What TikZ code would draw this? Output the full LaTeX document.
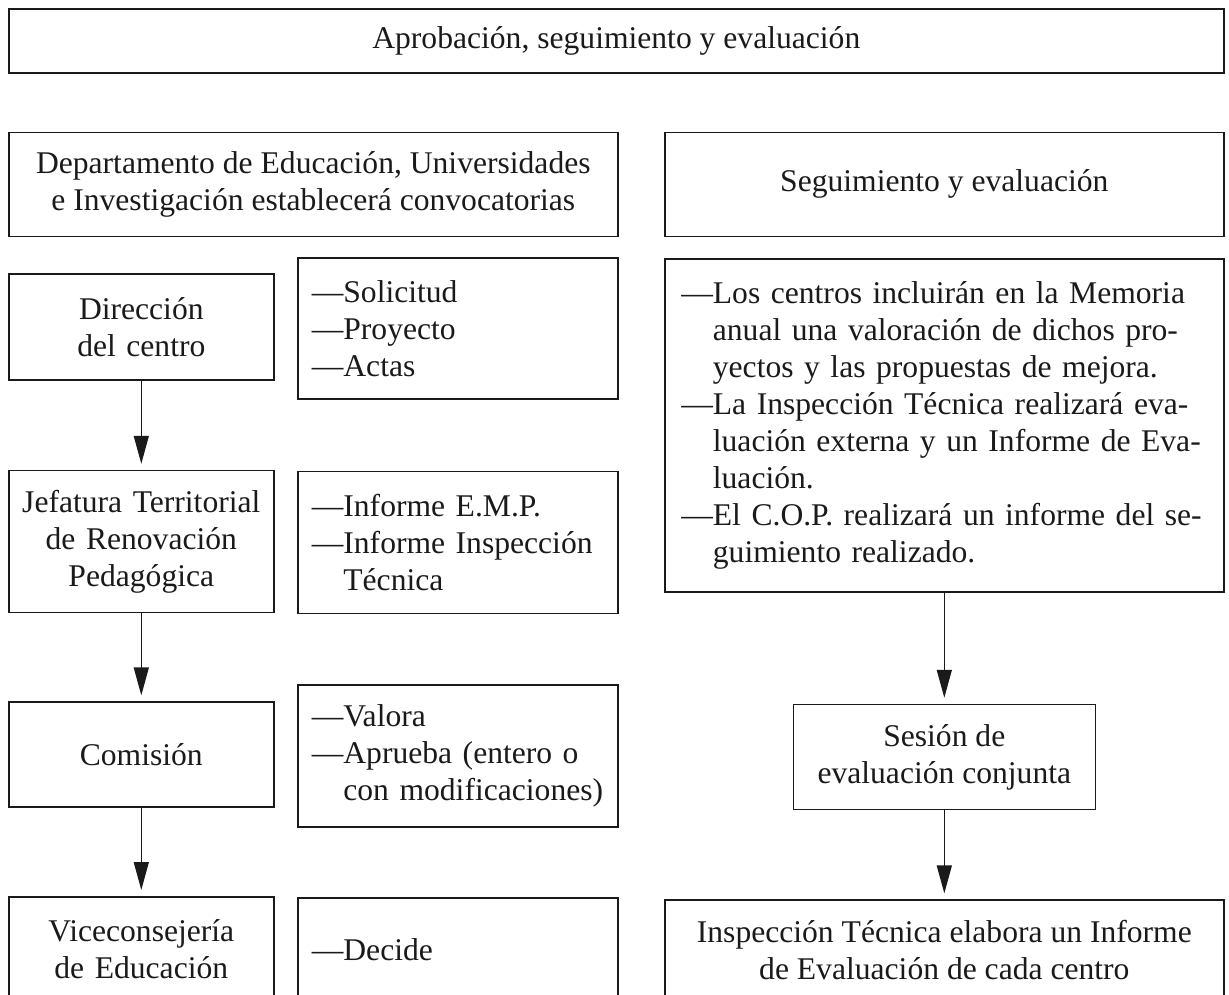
\documentclass[tikz,border=0pt]{standalone}
\usepackage{fontspec}
\setmainfont{Liberation Serif}
\usepackage{xcolor}
\usepackage{tikz}
\usetikzlibrary{arrows.meta,positioning}
\definecolor{EsqInk}{HTML}{1A1A1A}
\newcommand{\sangria}{\hphantom{---}}
\tikzset{
  >={Triangle[length=14pt,width=7.5pt]},
  flow/.style={->,line width=0.7pt,draw=EsqInk,shorten >=3pt},
  box/.style={draw=EsqInk,line width=0.8pt,align=center,inner sep=4pt,
    text=EsqInk,font=\fontsize{15.8}{18.5}\selectfont},
  stepbox/.style={box,minimum width=132.5pt,text width=124pt},
  listbox/.style={box,align=left,minimum width=160pt,text width=146pt,
    inner xsep=7pt}
}

\begin{document}
\begin{tikzpicture}[node distance=5mm]
      \useasboundingbox (0,0) rectangle (614.5pt,-497pt);
      \node[box,minimum width=607.5pt,minimum height=32pt,anchor=north west] (titulo) at (4pt,-4pt) {Aprobación, seguimiento y evaluación};

      \node[box,minimum width=304.5pt,minimum height=52pt,below right=29pt and 0pt of titulo.south west] (convoca) {Departamento de Educación, Universidades\\e Investigación establecerá convocatorias};
      \node[box,minimum width=279.5pt,minimum height=52pt,below left=29pt and 0pt of titulo.south east] (segtit) {Seguimiento y evaluación};

      \node[stepbox,minimum height=53pt,below right=18pt and 0pt of convoca.south west] (direccion) {Dirección\\del centro};
      \node[listbox,minimum height=70.5pt,below left=10pt and 0pt of convoca.south east] (solicitud) {---Solicitud\\---Proyecto\\---Actas};
      \node[stepbox,minimum height=71pt,below=44.5pt of direccion] (jefatura) {Jefatura Territorial\\de Renovación\\Pedagógica};
      \node[listbox,minimum height=71pt,below=35.5pt of solicitud] (informe) {---Informe E.M.P.\\---Informe Inspección\\\sangria Técnica};
      \node[stepbox,minimum height=52.5pt,below=44pt of jefatura] (comision) {Comisión};
      \node[listbox,minimum height=71pt,below=35pt of informe] (valora) {---Valora\\---Aprueba (entero o\\\sangria con modificaciones)};
      \node[stepbox,minimum height=52pt,below=44pt of comision] (vice) {Viceconsejería\\de Educación};
      \node[listbox,minimum height=51.5pt,below=34.5pt of valora] (decide) {---Decide};
      \draw[flow] (direccion) -- (jefatura);
      \draw[flow] (jefatura) -- (comision);
      \draw[flow] (comision) -- (vice);

      \node[listbox,minimum width=279.5pt,text width=263pt,inner xsep=8.25pt,minimum height=166.5pt,below left=10.5pt and 0pt of segtit.south east] (memoria) {---Los centros incluirán en la Memoria\\\sangria anual una valoración de dichos pro-\\\sangria yectos y las propuestas de mejora.\\---La Inspección Técnica realizará eva-\\\sangria luación externa y un Informe de Eva-\\\sangria luación.\\---El C.O.P. realizará un informe del se-\\\sangria guimiento realizado.};
      \node[box,minimum width=151pt,minimum height=52.5pt,below=55.5pt of memoria] (sesion) {Sesión de\\evaluación conjunta};
      \node[box,minimum width=279.5pt,minimum height=50pt,below=44.5pt of sesion] (inspeccion) {Inspección Técnica elabora un Informe\\de Evaluación de cada centro};
      \draw[flow] (memoria) -- (sesion);
      \draw[flow] (sesion) -- (inspeccion);
    \end{tikzpicture}
\end{document}
